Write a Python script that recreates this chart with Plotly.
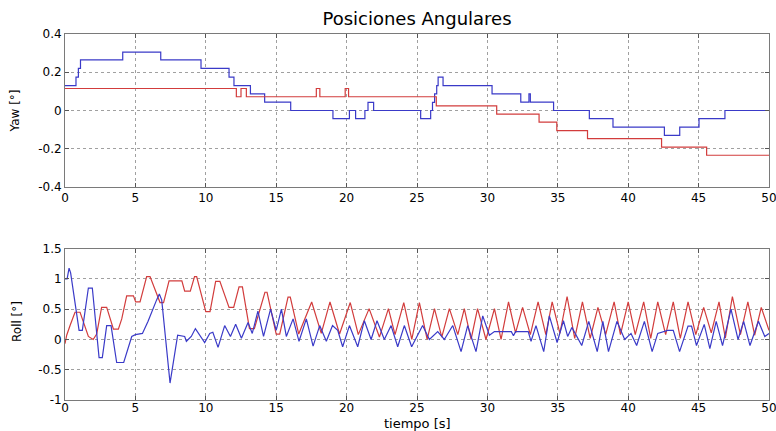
import plotly.graph_objects as go

# ---------------- data ----------------
# Yaw (step signals)
yaw_blue_t = [0, 0.78, 0.95, 1.1, 4.1, 6.8, 9.66, 11.65, 12.0, 13.17, 14.18, 16.03,
              19.03, 20.2, 20.64, 21.3, 21.52, 21.92, 25.26, 25.97, 26.1, 26.25, 26.4,
              26.5, 26.85, 30.33, 32.37, 32.95, 33.05, 34.7, 37.24, 38.92, 42.57, 43.66,
              45.03, 46.87, 50]
yaw_blue_v = [0.13, 0.175, 0.22, 0.265, 0.305, 0.265, 0.22, 0.175, 0.13, 0.087, 0.044, 0,
              -0.042, 0, -0.042, 0, 0.042, 0, -0.042, 0, 0.042, 0.087, 0.13,
              0.175, 0.13, 0.087, 0.044, 0.087, 0.044, 0, -0.042, -0.087, -0.13, -0.087,
              -0.042, 0, 0]

yaw_red_t = [0, 12.17, 12.5, 12.88, 17.85, 18.1, 19.9, 20.14, 26.37, 30.66, 33.67,
             34.93, 37.11, 42.37, 45.57, 50]
yaw_red_v = [0.115, 0.072, 0.115, 0.072, 0.115, 0.072, 0.115, 0.072, 0.024, -0.019, -0.061,
             -0.105, -0.147, -0.191, -0.234, -0.234]

# Roll (oscillating signals, vertices)
roll_red_t = [0, 0.12, 0.36, 0.71, 1.07, 1.3, 1.66, 2.0, 2.25, 2.6, 2.96, 3.44, 3.79, 4.03,
              4.38, 4.86, 5.02, 5.33, 5.8, 6.04, 6.75, 7.0, 7.39, 8.3, 8.5, 8.9, 9.2, 9.35,
              10.0, 10.3, 10.7, 11.0, 11.65, 11.98, 12.36, 12.6, 13.1, 13.45, 14.2, 14.35,
              15.0, 15.25, 15.84, 16.0, 16.6, 17.52, 18.2, 18.82, 19.5, 20.26, 20.83, 21.6,
              22.33, 22.97, 23.44, 24.06, 24.63, 25.17, 25.72, 26.24, 26.76, 27.3, 27.9,
              28.36, 28.84, 29.3, 29.9, 30.5, 30.97, 31.5, 32.0, 32.5, 33.05, 33.6, 34.15,
              34.6, 35.15, 35.66, 36.2, 36.75, 37.3, 37.85, 38.4, 39.0, 39.45, 40.0, 40.5,
              41.1, 41.6, 42.1, 42.66, 43.2, 43.7, 44.25, 44.8, 45.36, 45.9, 46.45, 46.9,
              47.4, 47.97, 48.5, 48.98, 49.45, 50]
roll_red_v = [-0.07, 0.07, 0.23, 0.45, 0.45, 0.28, 0.05, 0.0, 0.09, 0.53, 0.53, 0.17, 0.17, 0.34,
              0.72, 0.72, 0.62, 0.62, 1.04, 1.04, 0.61, 0.61, 0.97, 0.97, 0.8, 0.8, 1.04, 1.04,
              0.46, 0.46, 0.96, 0.96, 0.53, 0.53, 0.87, 0.87, 0.18, 0.18, 0.78, 0.78,
              0.09, 0.09, 0.7, 0.7, 0.09, 0.62, 0.1, 0.62, 0.09, 0.61, 0.08, 0.51,
              0.04, 0.51, 0.08, 0.61, 0.0, 0.61, 0.0, 0.51, 0.04, 0.51, 0.08,
              0.51, 0.0, 0.51, 0.0, 0.51, 0.0, 0.62, 0.11, 0.53, 0.08, 0.62, 0.08,
              0.62, 0.1, 0.71, 0.02, 0.62, 0.02, 0.53, 0.08, 0.62, 0.08, 0.62, 0.08,
              0.62, 0.02, 0.62, 0.08, 0.62, 0.02, 0.62, 0.08, 0.53, 0.11, 0.62, 0.02,
              0.71, 0.08, 0.62, 0.07, 0.53, 0.15]

roll_blue_t = [0, 0.15, 0.29, 0.4, 1.0, 1.23, 1.66, 1.94, 2.42, 2.65, 2.96, 3.27, 3.67, 4.17,
               4.74, 5.0, 5.5, 5.9, 6.5, 6.7, 6.87, 7.46, 8.0, 8.5, 8.62, 8.97, 9.26, 9.57,
               9.92, 10.28, 10.5, 10.87, 11.34, 11.75, 12.12, 12.53, 13.0, 13.3, 13.7, 14.1,
               14.6, 15.0, 15.37, 15.72, 16.2, 16.62, 17.14, 17.62, 18.09, 18.56, 19.0, 19.37,
               19.72, 20.2, 20.79, 21.26, 21.74, 22.16, 22.68, 23.16, 23.63, 24.1, 24.62,
               25.4, 25.88, 26.47, 26.94, 27.54, 28.13, 28.6, 29.19, 29.67, 30.14, 30.5,
               31.7, 31.85, 32.0, 32.9, 33.1, 33.45, 34.0, 34.4, 34.95, 35.4, 35.7, 36.0,
               36.7, 37.2, 37.8, 38.2, 38.6, 39.2, 39.75, 40.2, 40.6, 41.15, 41.7, 42.1,
               42.8, 43.2, 43.65, 44.25, 44.5, 44.85, 45.4, 45.8, 46.25, 46.7, 47.3, 47.8,
               48.2, 48.65, 49.25, 49.7, 50]
roll_blue_v = [1.0, 1.0, 1.18, 1.1, 0.15, 0.15, 0.85, 0.85, -0.3, -0.3, 0.23, 0.23, -0.38, -0.38,
               0.05, 0.08, 0.1, 0.3, 0.65, 0.75, 0.65, -0.72, 0.07, 0.05, -0.03, 0.05, 0.18, 0.07,
               -0.05, 0.1, 0.12, -0.13, 0.23, 0.05, 0.25, 0.02, 0.28, 0.1, 0.47, 0.05,
               0.5, 0.15, 0.5, 0.05, 0.34, -0.03, 0.34, -0.11, 0.23, -0.03, 0.23, 0.15,
               -0.12, 0.23, -0.12, 0.31, 0.0, 0.31, 0.0, 0.23, -0.12, 0.23, -0.12,
               0.23, 0.0, 0.13, 0.0, 0.23, -0.2, 0.23, -0.2, 0.39, 0.07, 0.13,
               0.13, 0.06, 0.13, 0.13, -0.03, 0.23, -0.2, 0.39, -0.05, 0.31, 0.05, 0.2,
               -0.1, 0.3, -0.2, 0.3, -0.2, 0.3, 0.0, 0.1, -0.1, 0.3, -0.2, 0.1,
               0.15, 0.15, -0.2, 0.22, 0.22, -0.1, 0.25, -0.15, 0.3, -0.1, 0.5, 0.0,
               0.3, -0.1, 0.3, 0.05, 0.1]

x_ticks = [0, 5, 10, 15, 20, 25, 30, 35, 40, 45, 50]
yaw_ticks = [-0.4, -0.2, 0, 0.2, 0.4]
yaw_ticktext = ["-0.4", "-0.2", "0", "0.2", "0.4"]
roll_ticks = [-1, -0.5, 0, 0.5, 1, 1.5]
roll_ticktext = ["-1", "-0.5", "0", "0.5", "1", "1.5"]

BLUE = "#3a3ac8"
RED = "#d23c3c"
FONT = "DejaVu Sans"

fig = go.Figure()
fig.add_trace(go.Scatter(x=yaw_blue_t, y=yaw_blue_v, mode="lines", line=dict(color=BLUE, width=1.2, shape="hv"),
                         xaxis="x", yaxis="y", showlegend=False))
fig.add_trace(go.Scatter(x=yaw_red_t, y=yaw_red_v, mode="lines", line=dict(color=RED, width=1.2, shape="hv"),
                         xaxis="x", yaxis="y", showlegend=False))
fig.add_trace(go.Scatter(x=roll_red_t, y=roll_red_v, mode="lines", line=dict(color=RED, width=1.2),
                         xaxis="x2", yaxis="y2", showlegend=False))
fig.add_trace(go.Scatter(x=roll_blue_t, y=roll_blue_v, mode="lines", line=dict(color=BLUE, width=1.2),
                         xaxis="x2", yaxis="y2", showlegend=False))

axis_common = dict(showline=True, mirror="ticks", linecolor="#7a7a7a", linewidth=1,
                   ticks="inside", ticklen=4, tickcolor="#555555", automargin=False,
                   ticklabeloverflow="allow",
                   showgrid=True, gridcolor="#a0a0a0", griddash="dot", gridwidth=1,
                   zeroline=False, tickfont=dict(family=FONT, size=12, color="black"))

# plot area: x 65..769 px, y 34..400 px  (paper height 366 px, width 704 px)
PLOT_BOTTOM = 400
PLOT_H = 366


def px_x(px):
    return (px - 65) / 704


def px_y(py):
    return (PLOT_BOTTOM - py) / PLOT_H


fig.update_layout(
    width=776, height=431,
    margin=dict(l=65, r=7, t=34, b=31),
    paper_bgcolor="white", plot_bgcolor="white",
    font=dict(family=FONT, color="black"),
    title=dict(text="Posiciones Angulares", x=0.5, xref="paper", y=1 - 19 / 431, yanchor="middle",
               font=dict(family=FONT, size=18, color="black")),
    xaxis=dict(domain=[0, 1], range=[0, 50], tickvals=x_ticks, anchor="y", **axis_common),
    yaxis=dict(domain=[px_y(187), 1], range=[-0.4, 0.4], tickvals=yaw_ticks, ticktext=yaw_ticktext, anchor="x",
               **axis_common),
    xaxis2=dict(domain=[0, 1], range=[0, 50], tickvals=x_ticks, anchor="y2", ticklabelstandoff=-3,
                **axis_common),
    yaxis2=dict(domain=[0, px_y(248.7)], range=[-1, 1.5], tickvals=roll_ticks, ticktext=roll_ticktext,
                anchor="x2", **axis_common),
    annotations=[
        dict(text="tiempo [s]", xref="paper", yref="paper", x=0.5, y=px_y(423), xanchor="center",
             yanchor="middle", showarrow=False, font=dict(family=FONT, size=13, color="black")),
        dict(text="Yaw [°]", xref="paper", yref="paper", x=px_x(15), y=px_y(110.5), xanchor="center",
             yanchor="middle", textangle=-90, showarrow=False, font=dict(family=FONT, size=12, color="black")),
        dict(text="Roll [°]", xref="paper", yref="paper", x=px_x(17), y=px_y(322), xanchor="center",
             yanchor="middle", textangle=-90, showarrow=False, font=dict(family=FONT, size=12, color="black")),
    ],
)

fig.write_html("out.html")
